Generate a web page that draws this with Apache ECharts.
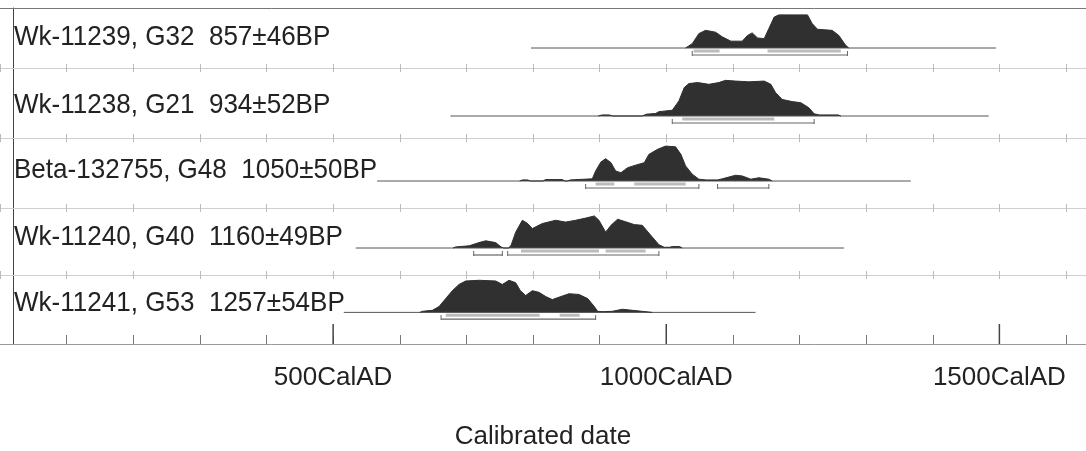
<!DOCTYPE html>
<html>
<head>
<meta charset="utf-8">
<script src="https://cdn.jsdelivr.net/npm/echarts@6/dist/echarts.min.js"></script>
<style>
  html, body { margin: 0; padding: 0; background: #fff; }
  #main { width: 1086px; height: 451px; }
</style>
</head>
<body>
<div id="main"></div>
<script>
// sample names, top row first
var labels = [
  'Wk-11239, G32  857±46BP',
  'Wk-11238, G21  934±52BP',
  'Beta-132755, G48  1050±50BP',
  'Wk-11240, G40  1160±49BP',
  'Wk-11241, G53  1257±54BP'
];

// extent of the thin calibration line for each row (cal AD)
var lineStart = [797, 676, 566, 534, 516];
var lineEnd = [1495, 1484, 1367, 1267, 1134];

// probability curves (relative heights)
var row1Years = [1029, 1039, 1049, 1059, 1074, 1084, 1097, 1114, 1122, 1129, 1137, 1147, 1154, 1162, 1169, 1189, 1212, 1219, 1227, 1249, 1259, 1269, 1274];
var row1Prob = [0, 0.12, 0.40, 0.49, 0.44, 0.31, 0.19, 0.19, 0.35, 0.42, 0.28, 0.26, 0.54, 0.86, 0.92, 0.92, 0.92, 0.68, 0.52, 0.49, 0.35, 0.08, 0];

var row2Years = [898, 904, 914, 920, 964, 970, 984, 989, 1009, 1019, 1027, 1034, 1047, 1064, 1079, 1089, 1104, 1124, 1147, 1157, 1164, 1174, 1189, 1202, 1214, 1222, 1230, 1258, 1262];
var row2Prob = [0, 0.03, 0.03, 0, 0, 0.05, 0.07, 0.12, 0.16, 0.42, 0.79, 0.90, 0.93, 0.88, 0.93, 0.99, 0.97, 0.95, 0.97, 0.88, 0.65, 0.46, 0.40, 0.37, 0.23, 0.06, 0.03, 0.03, 0];

var row3Years = [780, 784, 792, 796, 815, 819, 844, 848, 852, 856, 889, 894, 902, 909, 917, 924, 932, 942, 954, 967, 974, 987, 999, 1014, 1022, 1029, 1039, 1049, 1060, 1077, 1084, 1104, 1114, 1127, 1139, 1154, 1159];
var row3Prob = [0, 0.03, 0.03, 0, 0, 0.04, 0.04, 0, 0, 0.03, 0.06, 0.28, 0.53, 0.62, 0.51, 0.28, 0.23, 0.37, 0.44, 0.51, 0.74, 0.88, 0.97, 0.95, 0.74, 0.42, 0.19, 0.05, 0.03, 0.03, 0.06, 0.16, 0.14, 0.05, 0.09, 0.05, 0];

var row4Years = [680, 684, 704, 719, 729, 744, 752, 756, 763, 767, 774, 784, 792, 799, 814, 834, 849, 864, 879, 892, 899, 909, 917, 927, 937, 952, 964, 977, 989, 997, 1005, 1009, 1020, 1024];
var row4Prob = [0, 0.03, 0.06, 0.15, 0.20, 0.15, 0.03, 0, 0, 0.07, 0.44, 0.77, 0.68, 0.54, 0.68, 0.77, 0.72, 0.77, 0.83, 0.89, 0.77, 0.44, 0.63, 0.80, 0.74, 0.65, 0.63, 0.35, 0.09, 0.02, 0.02, 0.04, 0.04, 0];

var row5Years = [630, 634, 649, 659, 669, 679, 689, 699, 719, 744, 754, 764, 774, 781, 789, 799, 809, 819, 829, 842, 854, 869, 882, 892, 897, 905, 919, 934, 949, 964, 979];
var row5Prob = [0, 0.03, 0.06, 0.17, 0.40, 0.63, 0.81, 0.91, 0.93, 0.91, 0.81, 0.93, 0.86, 0.63, 0.49, 0.63, 0.58, 0.46, 0.37, 0.46, 0.54, 0.52, 0.40, 0.17, 0.03, 0.02, 0.03, 0.09, 0.06, 0.03, 0];

// 68.2% and 95.4% ranges
var sigma1 = [
  [[1041, 1080], [1152, 1262]],
  [[1024, 1162]],
  [[894, 922], [952, 1029]],
  [[782, 899], [909, 969]],
  [[669, 810], [840, 870]]
];
var sigma2 = [
  [[1039, 1272]],
  [[1009, 1222]],
  [[879, 1049], [1077, 1154]],
  [[711, 754], [762, 989]],
  [[662, 894]]
];

var tickValues = [500, 1000, 1500];
var tickLabels = ['500CalAD', '1000CalAD', '1500CalAD'];
var axisTitle = 'Calibrated date';

var curves = [
  [row1Years, row1Prob], [row2Years, row2Prob], [row3Years, row3Prob],
  [row4Years, row4Prob], [row5Years, row5Prob]
];

// row layout in px: [top, baseline, bottom]
var rows = [[8, 48, 68], [68, 116, 138], [138, 181, 208], [208, 248, 275], [275, 314, 347]];
var PX = 36;        // px per unit of probability
var X_MIN = 0, X_MAX = 1630;
var font = '"Liberation Sans", Arial, sans-serif';

var chart = echarts.init(document.getElementById('main'));

function rangeRender(level, color, width, ends) {
  return function (params, api) {
    var a = api.coord([api.value(0), level]);
    var b = api.coord([api.value(1), level]);
    var kids = [{
      type: 'line',
      shape: { x1: a[0], y1: a[1], x2: b[0], y2: b[1] },
      style: { stroke: color, lineWidth: width }
    }];
    if (ends) {
      kids.push({ type: 'line', shape: { x1: a[0], y1: a[1] - 4, x2: a[0], y2: a[1] + 1 }, style: { stroke: color, lineWidth: 1 } });
      kids.push({ type: 'line', shape: { x1: b[0], y1: b[1] - 4, x2: b[0], y2: b[1] + 1 }, style: { stroke: color, lineWidth: 1 } });
    }
    return { type: 'group', children: kids };
  };
}

var grids = [], xAxes = [], yAxes = [], series = [], graphics = [];
var last = rows.length - 1;

rows.forEach(function (r, i) {
  grids.push({ left: -3, right: 0, top: r[0], height: r[2] - r[0] });

  // bottom edge of the row
  xAxes.push({
    gridIndex: i, type: 'value', min: X_MIN, max: X_MAX, position: 'bottom',
    interval: 100,
    axisLine: { show: true, onZero: false, lineStyle: { color: i === last ? '#999' : '#d0d0d0', width: 1 } },
    axisTick: i === last
      ? { show: true, inside: true, length: 9, lineStyle: { color: '#777' } }
      : { show: true, inside: false, length: 4, lineStyle: { color: '#bbb' } },
    axisLabel: i === last ? {
      show: true, margin: 21, fontSize: 26, fontFamily: font, color: '#222',
      showMinLabel: false, showMaxLabel: false, hideOverlap: false,
      formatter: function (v) {
        var k = tickValues.indexOf(v);
        return k < 0 ? '' : tickLabels[k];
      }
    } : { show: false },
    name: i === last ? axisTitle : '',
    nameLocation: 'middle', nameGap: 80,
    nameTextStyle: { fontSize: 26, fontFamily: font, color: '#222' },
    splitLine: { show: false }
  });
  // top edge of the row
  xAxes.push({
    gridIndex: i, type: 'value', min: X_MIN, max: X_MAX, position: 'top', interval: 100,
    axisLine: { show: true, onZero: false, lineStyle: { color: i === 0 ? '#777' : '#d0d0d0', width: 1 } },
    axisTick: { show: i > 0, inside: false, length: 4, lineStyle: { color: '#bbb' } },
    axisLabel: { show: false },
    splitLine: { show: false }
  });
  yAxes.push({
    gridIndex: i, type: 'value',
    min: -(r[2] - r[1]) / PX, max: (r[1] - r[0]) / PX,
    offset: -13,
    axisLine: { show: true, onZero: false, lineStyle: { color: '#444', width: 1 } },
    axisTick: { show: false }, axisLabel: { show: false }, splitLine: { show: false }
  });

  var xi = i * 2;
  series.push({
    type: 'line', xAxisIndex: xi, yAxisIndex: i, symbol: 'none', silent: true,
    lineStyle: { color: '#555', width: 1 },
    data: [[lineStart[i], 0], [lineEnd[i], 0]]
  });
  series.push({
    type: 'line', xAxisIndex: xi, yAxisIndex: i, symbol: 'none', silent: true,
    lineStyle: { color: '#303030', width: 1 },
    areaStyle: { color: '#303030', opacity: 1 },
    data: curves[i][0].map(function (y, k) { return [y, curves[i][1][k]]; })
  });
  series.push({
    type: 'custom', xAxisIndex: xi, yAxisIndex: i, silent: true,
    renderItem: rangeRender(-3 / PX, '#bbb', 3, false),
    data: sigma1[i]
  });
  series.push({
    type: 'custom', xAxisIndex: xi, yAxisIndex: i, silent: true,
    renderItem: rangeRender(-7 / PX, '#666', 1.2, true),
    data: sigma2[i]
  });

  graphics.push({
    type: 'text', x: 14, y: r[1] - 25, scaleX: 0.93, silent: true,
    style: { text: labels[i], font: '28px ' + font, fill: '#222' }
  });
});

// taller ticks at the labelled 500-year marks
series.push({
  type: 'custom', xAxisIndex: last * 2, yAxisIndex: last, silent: true, clip: false, z: 10,
  renderItem: function (params, api) {
    var p = api.coord([api.value(0), 0]);
    var bottom = params.coordSys.y + params.coordSys.height;
    return {
      type: 'line',
      shape: { x1: p[0], y1: bottom, x2: p[0], y2: bottom - 20 },
      style: { stroke: '#444', lineWidth: 1.5 }
    };
  },
  data: tickValues.map(function (v) { return [v, 0]; })
});

chart.setOption({
  animation: false,
  backgroundColor: '#fff',
  grid: grids,
  xAxis: xAxes,
  yAxis: yAxes,
  series: series,
  graphic: graphics
});
</script>
</body>
</html>
